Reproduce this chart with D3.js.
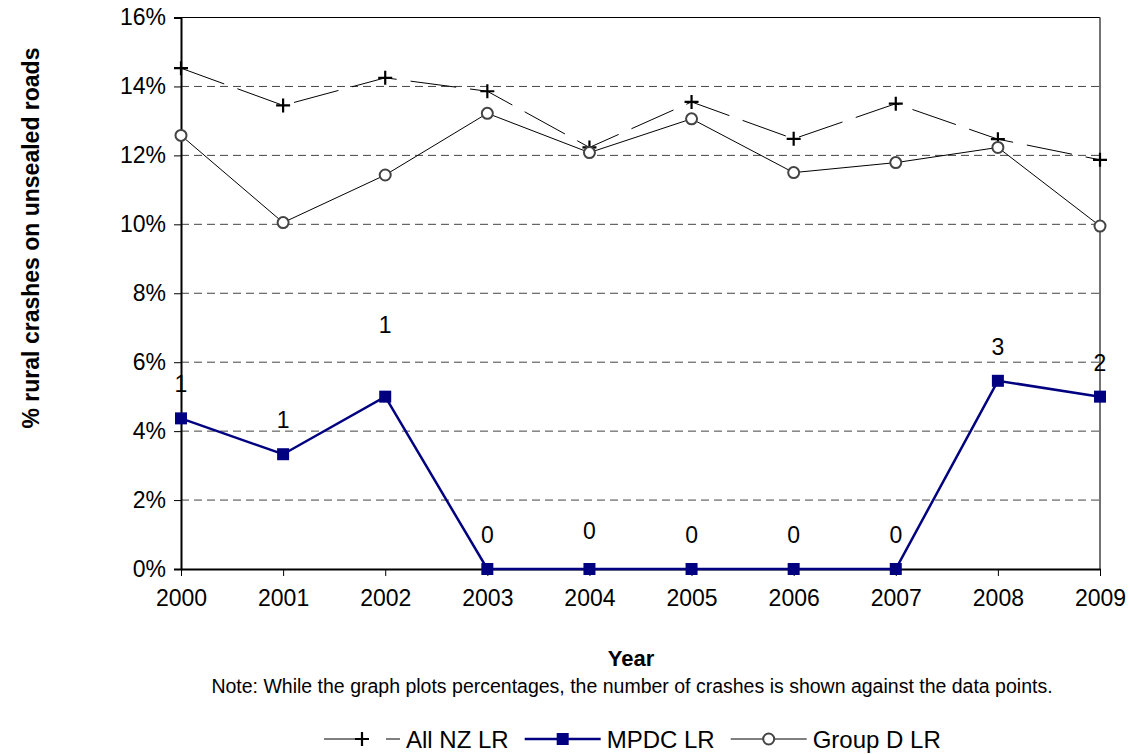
<!DOCTYPE html>
<meta charset="utf-8">
<head>
  <meta charset="utf-8">
  <title>Rural crashes on unsealed roads</title>
  <style>
    body { margin: 0; background: #fff; }
    svg text { font-family: "Liberation Sans", Arial, sans-serif; fill: #000; }
  </style>
</head>
<body>
<script src="https://cdn.jsdelivr.net/npm/d3@7/dist/d3.min.js"></script>
<script>

// the data
var years = [2000, 2001, 2002, 2003, 2004, 2005, 2006, 2007, 2008, 2009];
var allNZ  = [14.53, 13.45, 14.25, 13.86, 12.23, 13.55, 12.48, 13.5, 12.47, 11.87];
var mpdc   = [4.37, 3.33, 5.0, 0, 0, 0, 0, 0, 5.46, 5.0];
var groupD = [12.58, 10.05, 11.43, 13.22, 12.08, 13.06, 11.5, 11.79, 12.23, 9.95];
var mpdcCrashes = [1, 1, 1, 0, 0, 0, 0, 0, 3, 2];
var yTicks = [0, 2, 4, 6, 8, 10, 12, 14, 16];

// extra lift (px) for a couple of hand-placed count labels
var labelLift = [0, 0, 38, 0, 4, 0, 0, 0, 0, 0];

// set the dimensions and margins of the graph
var margin = {top: 17.5, right: 30, bottom: 185, left: 181},
    width = 1100 - margin.left,
    height = 569 - margin.top;

var x = d3.scalePoint()
    .domain(years)
    .range([0, width]);

var y = d3.scaleLinear()
    .domain([0, 16])
    .range([height, 0]);

var svg = d3.select("body").append("svg")
    .attr("width", 1130)
    .attr("height", 754);

var g = svg.append("g")
    .attr("transform", "translate(" + margin.left + "," + margin.top + ")");

// gridlines
g.selectAll(".grid")
    .data(yTicks.filter(function(d) { return d > 0 && d < 16; }))
    .enter().append("line")
    .attr("x1", 0)
    .attr("x2", width)
    .attr("y1", function(d) { return y(d); })
    .attr("y2", function(d) { return y(d); })
    .attr("stroke", "#444")
    .attr("stroke-width", 1)
    .attr("stroke-dasharray", "8,5");

// plot frame top + right
g.append("line")
    .attr("x1", 0).attr("x2", width)
    .attr("y1", y(16)).attr("y2", y(16))
    .attr("stroke", "#000").attr("stroke-width", 1.2);
g.append("line")
    .attr("x1", width).attr("x2", width)
    .attr("y1", y(16)).attr("y2", height)
    .attr("stroke", "#444").attr("stroke-width", 1.5);

// y axis
var yAxis = g.append("g")
    .call(d3.axisLeft(y)
      .tickValues(yTicks)
      .tickSize(7)
      .tickPadding(8)
      .tickFormat(function(d) { return d + "%"; }));
yAxis.select(".domain").attr("stroke-width", 2);
yAxis.selectAll("text").style("font-size", "23px");

// x axis
var xAxis = g.append("g")
    .attr("transform", "translate(0," + height + ")")
    .call(d3.axisBottom(x)
      .tickSize(7)
      .tickPadding(14)
      .tickSizeOuter(0));
xAxis.select(".domain").attr("stroke-width", 2);
xAxis.selectAll("text").style("font-size", "23px");

var series = [
  {name: "All NZ LR",  values: allNZ,  color: "#000",    width: 1, dash: "46,14", marker: "plus"},
  {name: "MPDC LR",    values: mpdc,   color: "#000080", width: 2.5, dash: null,  marker: "square"},
  {name: "Group D LR", values: groupD, color: "#000",    width: 1, dash: null,    marker: "circle"}
];

var line = d3.line()
    .x(function(d, i) { return x(years[i]); })
    .y(function(d) { return y(d); });

function drawMarker(sel, s) {
  if (s.marker == "plus") {
    sel.append("path")
      .attr("d", "M-7,0H7M0,-7V7")
      .attr("stroke", "#000")
      .attr("stroke-width", 2.2);
  } else if (s.marker == "square") {
    sel.append("rect")
      .attr("x", -6).attr("y", -6)
      .attr("width", 12).attr("height", 12)
      .attr("fill", "#000080");
  } else {
    sel.append("circle")
      .attr("r", 5.5)
      .attr("fill", "#fff")
      .attr("stroke", "#444")
      .attr("stroke-width", 2);
  }
}

series.forEach(function(s) {
  g.append("path")
    .datum(s.values)
    .attr("fill", "none")
    .attr("stroke", s.color)
    .attr("stroke-width", s.width)
    .attr("stroke-dasharray", s.dash)
    .attr("d", line);

  g.selectAll(".m-" + s.marker)
    .data(s.values)
    .enter().append("g")
    .attr("class", "m-" + s.marker)
    .attr("transform", function(d, i) {
      return "translate(" + x(years[i]) + "," + y(d) + ")";
    })
    .each(function() { drawMarker(d3.select(this), s); });
});

// crash counts against the MPDC points
g.selectAll(".count")
    .data(mpdcCrashes)
    .enter().append("text")
    .attr("class", "count")
    .attr("x", function(d, i) { return x(years[i]); })
    .attr("y", function(d, i) { return y(mpdc[i]) - 34 - labelLift[i]; })
    .attr("text-anchor", "middle")
    .attr("dominant-baseline", "central")
    .style("font-size", "23px")
    .text(function(d) { return d; });

// axis titles
svg.append("text")
    .attr("transform", "translate(39,238) rotate(-90)")
    .attr("text-anchor", "middle")
    .style("font-size", "23px")
    .style("font-weight", "bold")
    .text("% rural crashes on unsealed roads");

svg.append("text")
    .attr("x", 631)
    .attr("y", 666)
    .attr("text-anchor", "middle")
    .style("font-size", "22px")
    .style("font-weight", "bold")
    .text("Year");

svg.append("text")
    .attr("x", 632)
    .attr("y", 693)
    .attr("text-anchor", "middle")
    .style("font-size", "19.5px")
    .text("Note: While the graph plots percentages, the number of crashes is shown against the data points.");

// legend
var legend = svg.append("g").attr("transform", "translate(0,739)");
var lx = 324;
series.forEach(function(s) {
  var item = legend.append("g").attr("transform", "translate(" + lx + ",0)");
  item.append("line")
    .attr("x1", 0).attr("x2", 76)
    .attr("stroke", s.color)
    .attr("stroke-width", s.width)
    .attr("stroke-dasharray", s.dash ? "42,20" : null);
  drawMarker(item.append("g").attr("transform", "translate(38,0)"), s);
  var t = item.append("text")
    .attr("x", 82)
    .attr("dominant-baseline", "central")
    .style("font-size", "24px")
    .text(s.name);
  lx += 82 + t.node().getComputedTextLength() + 16;
});

</script>
</body>
